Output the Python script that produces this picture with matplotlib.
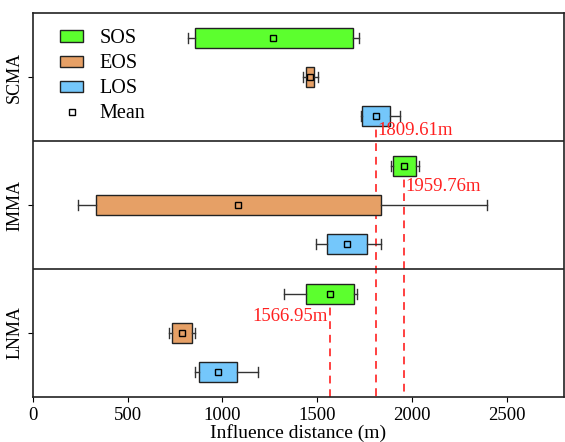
import matplotlib
matplotlib.use("Agg")
import matplotlib.pyplot as plt
from matplotlib.patches import Patch
from matplotlib.lines import Line2D

plt.rcParams['font.family'] = ['Liberation Serif', 'DejaVu Serif']

regions = ['SCMA', 'IMMA', 'LNMA']
phases = ['SOS', 'EOS', 'LOS']
colors = ['#5cff2e', '#e6a066', '#74c7fb']

# per region, per phase: whisker low, q1, q3, whisker high, mean
stats_vals = {
    'SCMA': [(820, 853, 1687, 1718, 1268),
             (1427, 1443, 1482, 1502, 1461),
             (1729, 1738, 1881, 1935, 1809.61)],
    'IMMA': [(1890, 1901, 2022, 2035, 1959.76),
             (236, 333, 1835, 2396, 1082),
             (1493, 1552, 1760, 1835, 1656)],
    'LNMA': [(1325, 1438, 1696, 1711, 1566.95),
             (717, 734, 840, 855, 787),
             (853, 875, 1079, 1185, 975)],
}

# highlighted means: (value, region index, phase index)
marks = [(1809.61, 0, 2), (1959.76, 1, 0), (1566.95, 2, 0)]

fig, ax = plt.subplots(figsize=(5.65, 4.42), dpi=100)
fig.subplots_adjust(left=0.058, right=0.998, top=0.97, bottom=0.102)

offsets = [0.58, 1.5, 2.42]
for r, reg in enumerate(regions):
    for p in range(3):
        lo, q1, q3, hi, mean = stats_vals[reg][p]
        st = [{'whislo': lo, 'q1': q1, 'med': mean, 'q3': q3, 'whishi': hi, 'mean': mean}]
        ax.bxp(st, positions=[3 * r + offsets[p]], widths=0.47, vert=False,
               patch_artist=True, showmeans=True, showfliers=False,
               boxprops=dict(facecolor=colors[p], edgecolor='#222222', linewidth=1),
               whiskerprops=dict(color='#333333', linewidth=1),
               capprops=dict(color='#333333', linewidth=1),
               medianprops=dict(linewidth=0),
               meanprops=dict(marker='s', markerfacecolor='none', markeredgecolor='black',
                              markersize=4.5, markeredgewidth=1))

for val, r, p in marks:
    y0 = 3 * r + offsets[p]
    ax.vlines(val, y0, 9, colors='#ff4040', linestyles=(0, (4, 3)), linewidth=1.4, zorder=1)

ax.text(1816, 2.74, '1809.61m', color='#ff2020', fontsize=13.5, ha='left', va='center')
ax.text(1964, 4.07, '1959.76m', color='#ff2020', fontsize=13.5, ha='left', va='center')
ax.text(1553, 7.12, '1566.95m', color='#ff2020', fontsize=13.5, ha='right', va='center')

ax.axhline(3, color='#222222', linewidth=1.2)
ax.axhline(6, color='#222222', linewidth=1.2)

ax.set_ylim(9, 0)
ax.set_xlim(0, 2800)
ax.set_yticks([1.5, 4.5, 7.5])
ax.set_yticklabels(regions, rotation=90, va='center', fontsize=13)
ax.set_xticks([0, 500, 1000, 1500, 2000, 2500])
ax.tick_params(axis='x', labelsize=13.5)
ax.set_xlabel('Influence distance (m)', fontsize=14, labelpad=0)
for s in ax.spines.values():
    s.set_linewidth(1.2)
    s.set_color('#222222')

handles = [Patch(facecolor=c, edgecolor='#222222', label=n) for c, n in zip(colors, phases)]
handles.append(Line2D([], [], marker='s', linestyle='none', markerfacecolor='none',
                      markeredgecolor='black', markersize=4, label='Mean'))
ax.legend(handles=handles, loc='upper left', bbox_to_anchor=(0.036, 0.979), frameon=False,
          fontsize=14.5, handlelength=1.15, handleheight=0.5, handletextpad=0.8,
          labelspacing=0.3, borderaxespad=0)

fig.savefig('out.png', dpi=100)
